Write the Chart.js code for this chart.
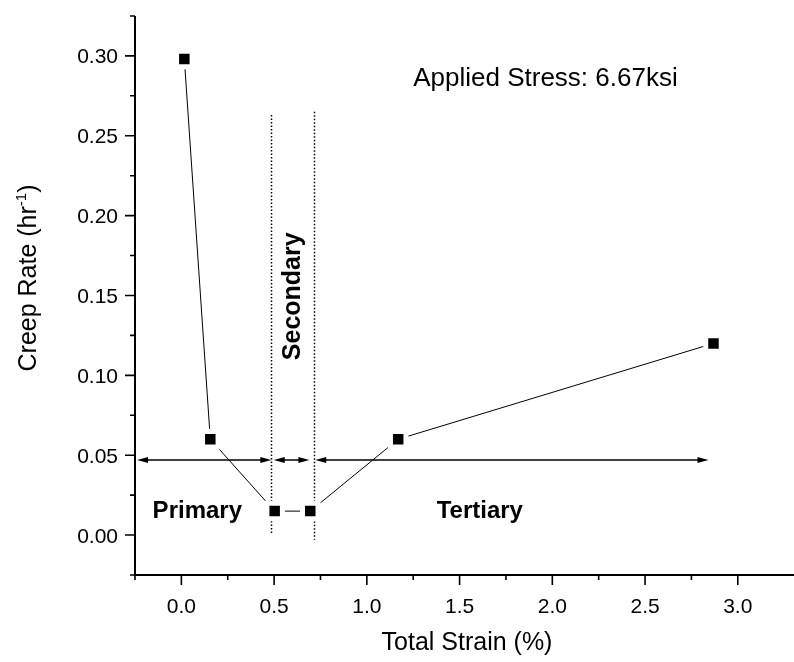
<!DOCTYPE html>
<html>
<head>
<meta charset="utf-8">
<script src="https://cdn.jsdelivr.net/npm/chart.js@4.4.1/dist/chart.umd.min.js"></script>
<style>
  html, body { margin: 0; padding: 0; background: #fff; }
  #wrap { width: 794px; height: 662px; }
</style>
</head>
<body>
<div id="wrap"><canvas id="c" width="794" height="662"></canvas></div>
<script>
// Creep rate measured against total strain
const strain = [0.016, 0.156, 0.503, 0.695, 1.169, 2.869];
const creepRate = [0.298, 0.060, 0.015, 0.015, 0.060, 0.120];

// Axis ticks
const xTickLabels = ['0.0', '0.5', '1.0', '1.5', '2.0', '2.5', '3.0'];
const xMinorTicks = [-0.25, 0.25, 0.75, 1.25, 1.75, 2.25, 2.75];
const yTickLabels = ['0.00', '0.05', '0.10', '0.15', '0.20', '0.25', '0.30'];
const yMinorTicks = [-0.025, 0.025, 0.075, 0.125, 0.175, 0.225, 0.275, 0.325];

// Stage boundaries (strain, %) and the span of each stage arrow
const stageBounds = [0.485, 0.713];
const stageArrows = [[-0.239, 0.485], [0.498, 0.690], [0.722, 2.842]];
const arrowLevel = 0.047;
const stageLabels = ['Primary', 'Secondary', 'Tertiary'];
const stressNote = 'Applied Stress: 6.67ksi';

const FONT = '"Liberation Sans", Arial, Helvetica, sans-serif';

function arrowHead(ctx, xTip, y, dir) {
  const len = 11, half = 3;
  ctx.beginPath();
  ctx.moveTo(xTip, y);
  ctx.lineTo(xTip - dir * len, y - half);
  ctx.lineTo(xTip - dir * len, y + half);
  ctx.closePath();
  ctx.fill();
}

const backdrop = {
  id: 'backdrop',
  beforeDatasetsDraw(chart) {
    const { ctx } = chart;
    const xs = chart.scales.x, ys = chart.scales.y;
    ctx.save();
    ctx.strokeStyle = '#000';
    ctx.lineWidth = 1.5;
    ctx.setLineDash([1.5, 2]);
    stageBounds.forEach((b, i) => {
      const px = Math.round(xs.getPixelForValue(b)) + 0.5;
      ctx.beginPath();
      ctx.moveTo(px, ys.getPixelForValue(i === 0 ? 0.263 : 0.265));
      ctx.lineTo(px, ys.getPixelForValue(i === 0 ? 0.0 : -0.003));
      ctx.stroke();
    });
    ctx.setLineDash([]);

    // stage arrows
    ctx.fillStyle = '#000';
    ctx.lineWidth = 1.5;
    const py = ys.getPixelForValue(arrowLevel);
    stageArrows.forEach(([a, b]) => {
      const pa = xs.getPixelForValue(a), pb = xs.getPixelForValue(b);
      ctx.beginPath();
      ctx.moveTo(pa + 4, py);
      ctx.lineTo(pb - 4, py);
      ctx.stroke();
      arrowHead(ctx, pa, py, -1);
      arrowHead(ctx, pb, py, 1);
    });
    ctx.restore();
  },
  afterDraw(chart) {
    const { ctx, chartArea: ca } = chart;
    const xs = chart.scales.x, ys = chart.scales.y;
    ctx.save();
    ctx.strokeStyle = '#000';
    ctx.fillStyle = '#000';

    // axis lines
    ctx.lineWidth = 2;
    ctx.beginPath();
    ctx.moveTo(ca.left, ca.top);
    ctx.lineTo(ca.left, ca.bottom);
    ctx.moveTo(ca.left - 1, ca.bottom);
    ctx.lineTo(chart.width, ca.bottom);
    ctx.stroke();

    // y ticks
    ctx.lineWidth = 1.6;
    ctx.beginPath();
    yTickLabels.forEach(t => {
      const p = ys.getPixelForValue(parseFloat(t));
      ctx.moveTo(ca.left, p); ctx.lineTo(ca.left - 10, p);
    });
    yMinorTicks.forEach(v => {
      const p = ys.getPixelForValue(v);
      ctx.moveTo(ca.left, p); ctx.lineTo(ca.left - 5, p);
    });
    // x ticks
    xTickLabels.forEach(t => {
      const p = xs.getPixelForValue(parseFloat(t));
      ctx.moveTo(p, ca.bottom); ctx.lineTo(p, ca.bottom + 10);
    });
    xMinorTicks.forEach(v => {
      const p = xs.getPixelForValue(v);
      ctx.moveTo(p, ca.bottom); ctx.lineTo(p, ca.bottom + 5);
    });
    ctx.stroke();

    // tick labels
    ctx.font = '21px ' + FONT;
    ctx.textAlign = 'right';
    ctx.textBaseline = 'alphabetic';
    yTickLabels.forEach(t => {
      ctx.fillText(t, 118, ys.getPixelForValue(parseFloat(t)) + 7.5);
    });
    ctx.textAlign = 'center';
    xTickLabels.forEach(t => {
      ctx.fillText(t, xs.getPixelForValue(parseFloat(t)), 613);
    });

    // axis titles
    ctx.font = '25px ' + FONT;
    ctx.fillText('Total Strain (%)', 467, 650);

    ctx.save();
    ctx.translate(36, 278);
    ctx.rotate(-Math.PI / 2);
    const part1 = 'Creep Rate (hr', sup = '-1', part3 = ')';
    ctx.font = '25px ' + FONT;
    const w1 = ctx.measureText(part1).width, w3 = ctx.measureText(part3).width;
    ctx.font = '15px ' + FONT;
    const w2 = ctx.measureText(sup).width;
    const x0 = -(w1 + w2 + w3) / 2;
    ctx.textAlign = 'left';
    ctx.font = '25px ' + FONT;
    ctx.fillText(part1, x0, 0);
    ctx.font = '15px ' + FONT;
    ctx.fillText(sup, x0 + w1, -10);
    ctx.font = '25px ' + FONT;
    ctx.fillText(part3, x0 + w1 + w2, 0);
    ctx.restore();

    // stage labels
    ctx.font = 'bold 24px ' + FONT;
    ctx.textBaseline = 'alphabetic';
    ctx.textAlign = 'center';
    ctx.fillText(stageLabels[0], xs.getPixelForValue(0.086), ys.getPixelForValue(0.0105));
    ctx.fillText(stageLabels[2], xs.getPixelForValue(1.609), ys.getPixelForValue(0.0104));
    ctx.save();
    ctx.font = 'bold 25px ' + FONT;
    ctx.translate(xs.getPixelForValue(0.637), ys.getPixelForValue(0.1495));
    ctx.rotate(-Math.PI / 2);
    ctx.fillText(stageLabels[1], 0, 0);
    ctx.restore();

    // stress note
    ctx.font = '26px ' + FONT;
    ctx.textAlign = 'right';
    ctx.fillText(stressNote, xs.getPixelForValue(2.676), ys.getPixelForValue(0.281));
    ctx.restore();
  }
};

new Chart(document.getElementById('c'), {
  type: 'scatter',
  data: {
    datasets: [{
      data: strain.map((x, i) => ({ x, y: creepRate[i] })),
      showLine: true,
      borderColor: '#000',
      borderWidth: 1,
      pointStyle: 'rect',
      pointRadius: 10.96,
      pointHoverRadius: 10.96,
      pointBackgroundColor: '#000',
      pointBorderColor: '#fff',
      pointBorderWidth: 5
    }]
  },
  options: {
    responsive: false,
    animation: false,
    devicePixelRatio: 1,
    layout: { padding: { top: 10, right: 0, left: 0, bottom: 0 } },
    plugins: { legend: { display: false }, tooltip: { enabled: false } },
    scales: {
      x: {
        type: 'linear', min: -0.25, max: 3.217,
        grid: { display: false }, border: { display: false },
        ticks: { display: false },
        afterFit(s) { s.height = 87; s.paddingLeft = 0; s.paddingRight = 0; }
      },
      y: {
        type: 'linear', min: -0.025, max: 0.325,
        grid: { display: false }, border: { display: false },
        ticks: { display: false },
        afterFit(s) { s.width = 135; s.paddingTop = 0; s.paddingBottom = 0; }
      }
    }
  },
  plugins: [backdrop]
});
</script>
</body>
</html>
